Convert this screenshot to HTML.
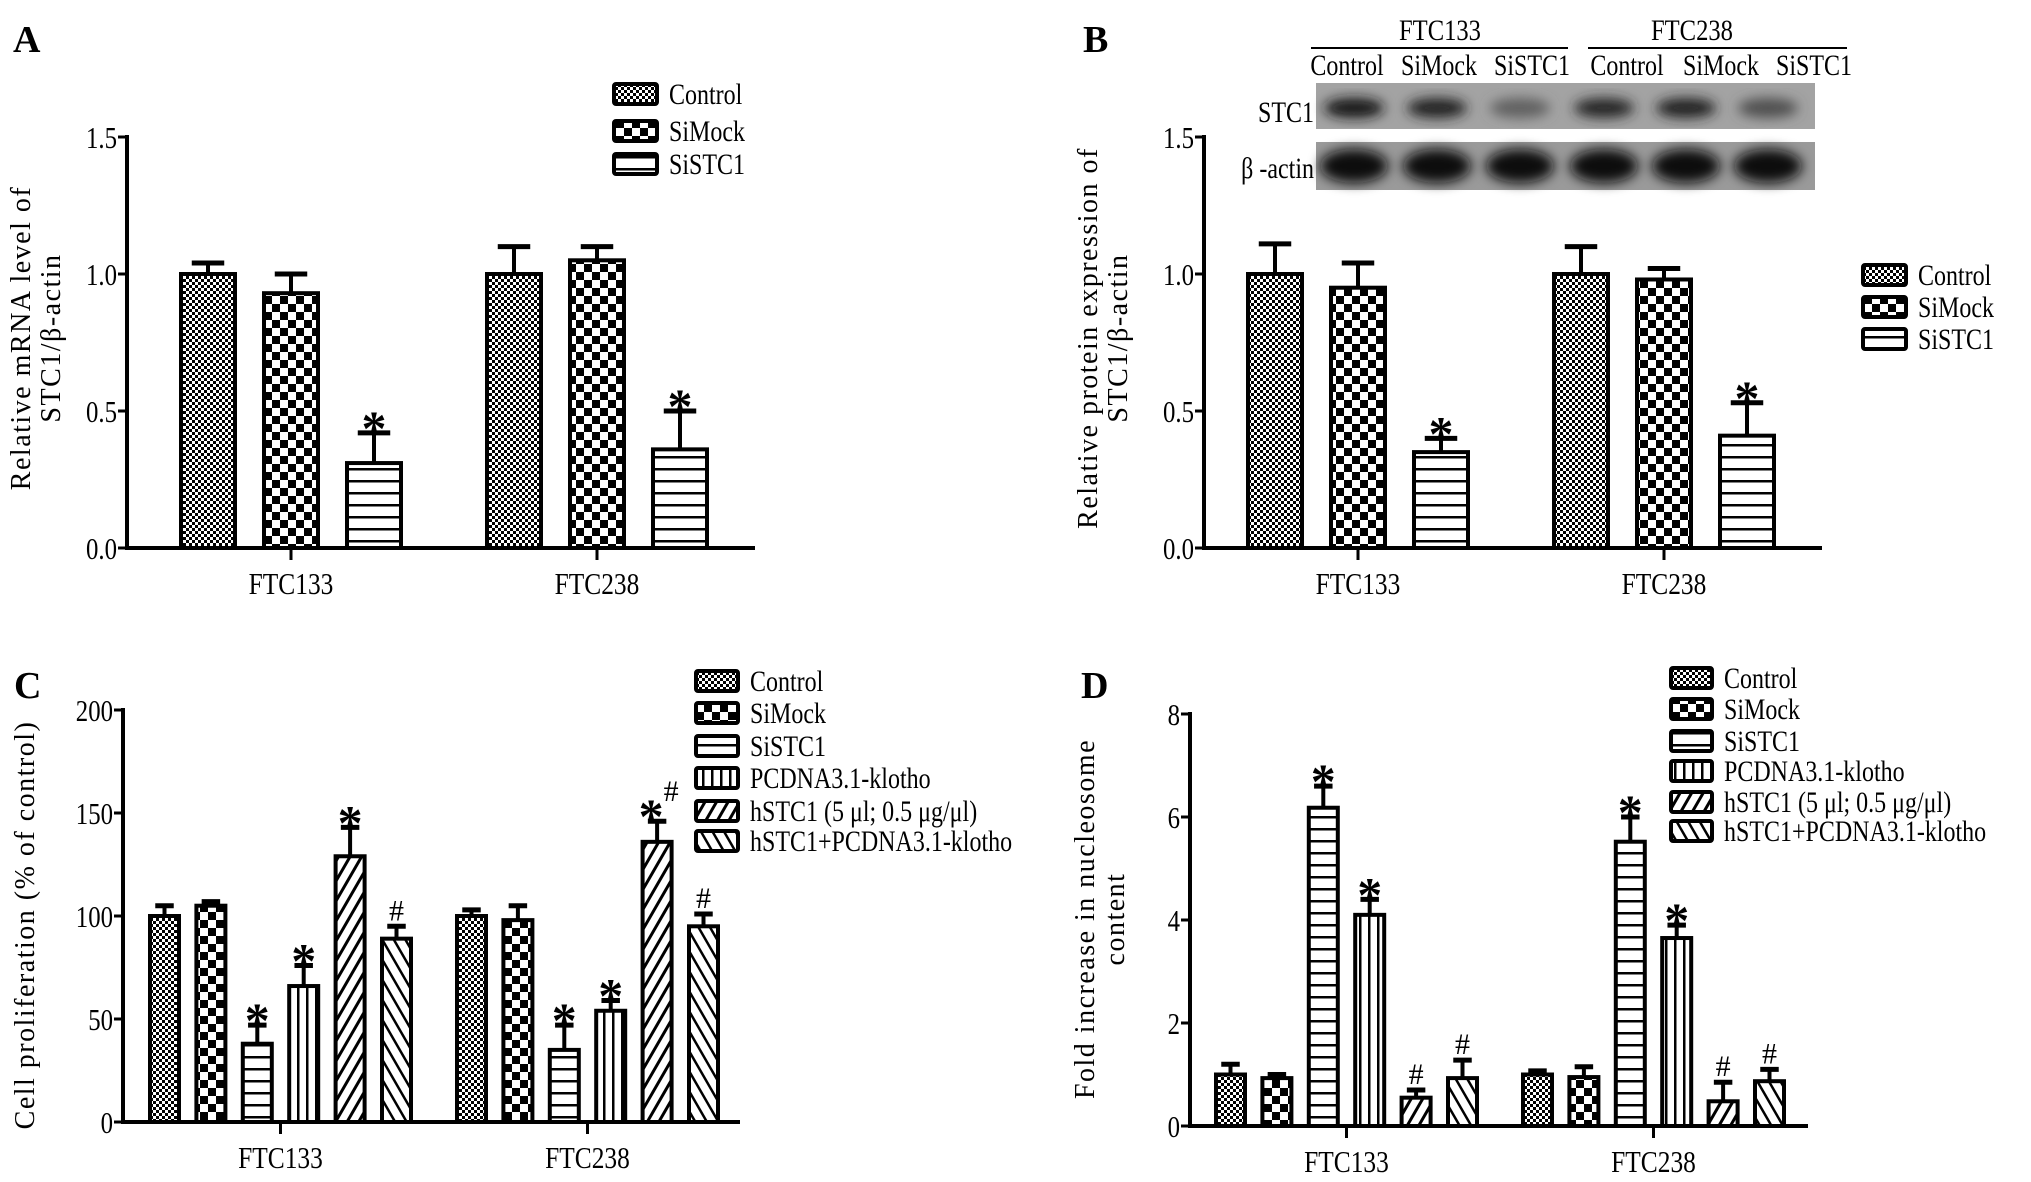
<!DOCTYPE html>
<html><head><meta charset="utf-8"><style>
body{margin:0;background:#fff;}
svg{display:block;font-family:"Liberation Serif",serif;}
</style></head><body>
<svg id="fig" width="2031" height="1182" viewBox="0 0 2031 1182" xmlns="http://www.w3.org/2000/svg">
<defs>
<pattern id="p-control" patternUnits="userSpaceOnUse" width="6" height="6"><rect width="6" height="6" fill="#fff"/><rect width="3" height="3" fill="#000"/><rect x="3" y="3" width="3" height="3" fill="#000"/></pattern>
<pattern id="p-simock" patternUnits="userSpaceOnUse" width="16" height="16"><rect width="16" height="16" fill="#fff"/><rect width="8" height="8" fill="#000"/><rect x="8" y="8" width="8" height="8" fill="#000"/></pattern>
<pattern id="p-sistc1" patternUnits="userSpaceOnUse" width="12" height="12"><rect width="12" height="12" fill="#fff"/><rect y="0" width="12" height="2.5" fill="#000"/></pattern>
<pattern id="p-pcdna" patternUnits="userSpaceOnUse" width="9" height="9"><rect width="9" height="9" fill="#fff"/><rect width="2.5" height="9" fill="#000"/></pattern>
<pattern id="p-hstc1" patternUnits="userSpaceOnUse" width="10" height="10" patternTransform="rotate(30)"><rect width="10" height="10" fill="#fff"/><rect width="3" height="10" fill="#000"/></pattern>
<pattern id="p-combo" patternUnits="userSpaceOnUse" width="10" height="10" patternTransform="rotate(-30)"><rect width="10" height="10" fill="#fff"/><rect width="2.5" height="10" fill="#000"/></pattern>
<filter id="blur" x="-50%" y="-50%" width="200%" height="200%"><feGaussianBlur stdDeviation="6"/></filter>
</defs>
<g id="root"></g>
</svg>
<script>
// ---- Panel A data ----
const aGroups = ["FTC133","FTC238"];
const aSeries = ["Control","SiMock","SiSTC1"];
const aValues = [[1.0,0.93,0.31],[1.0,1.05,0.36]];
const aErrors = [[1.04,1.0,0.42],[1.1,1.1,0.5]];
const aMarks = [["","","*"],["","","*"]];
const aTicks = ["0.0","0.5","1.0","1.5"];
const aTickVals = [0,0.5,1.0,1.5];
// ---- Panel B data ----
const bGroups = ["FTC133","FTC238"];
const bSeries = ["Control","SiMock","SiSTC1"];
const bValues = [[1.0,0.95,0.35],[1.0,0.98,0.41]];
const bErrors = [[1.11,1.04,0.4],[1.1,1.02,0.53]];
const bMarks = [["","","*"],["","","*"]];
const bTicks = ["0.0","0.5","1.0","1.5"];
const bTickVals = [0,0.5,1.0,1.5];
const blotStc1 = [0.85,0.8,0.4,0.75,0.8,0.5];
const blotActin = [1,1,1,1,1,1];
// ---- Panel C data ----
const cGroups = ["FTC133","FTC238"];
const cSeries = ["Control","SiMock","SiSTC1","PCDNA3.1-klotho","hSTC1 (5 μl; 0.5 μg/μl)","hSTC1+PCDNA3.1-klotho"];
const cValues = [[100,105,38,66,129,89],[100,98,35,54,136,95]];
const cErrors = [[105,107,47,76,143,95],[103,105,47,59,146,101]];
const cMarks = [["","","*","*","*","#"],["","","*","*","*#","#"]];
const cTicks = ["0","50","100","150","200"];
const cTickVals = [0,50,100,150,200];
// ---- Panel D data ----
const dGroups = ["FTC133","FTC238"];
const dSeries = ["Control","SiMock","SiSTC1","PCDNA3.1-klotho","hSTC1 (5 μl; 0.5 μg/μl)","hSTC1+PCDNA3.1-klotho"];
const dValues = [[1.0,0.93,6.18,4.1,0.55,0.93],[1.0,0.95,5.52,3.65,0.48,0.87]];
const dErrors = [[1.2,1.0,6.6,4.4,0.7,1.28],[1.07,1.15,6.0,3.9,0.85,1.1]];
const dMarks = [["","","*","*","#","#"],["","","*","*","#","#"]];
const dTicks = ["0","2","4","6","8"];
const dTickVals = [0,2,4,6,8];

const pats = ["p-control","p-simock","p-sistc1","p-pcdna","p-hstc1","p-combo"];
const NS = "http://www.w3.org/2000/svg";
const root = document.getElementById("root");
function mk(tag, attrs, parent, text){
  const e = document.createElementNS(NS, tag);
  for (const k in attrs) e.setAttribute(k, attrs[k]);
  if (text !== undefined) e.textContent = text;
  (parent||root).appendChild(e);
  return e;
}
function sx(x, k){ return `translate(${x},0) scale(${k},1) translate(${-x},0)`; }

function panel(o){
  const g = mk("g", {});
  
  
  const y = v => o.y0 - (v - o.vmin) / (o.vmax - o.vmin) * (o.y0 - o.y1);
  const L = mk("text",{x:o.letterX,y:o.letterY,"font-size":38,"font-weight":"bold"},g,o.letter);
  
  
  const ax = mk("g",{},g);
  
  
  mk("line",{x1:o.ax,y1:o.y1-2,x2:o.ax,y2:o.y0+2,stroke:"#000","stroke-width":4},ax);
  o.tickVals.forEach((tv,i)=>{
    mk("line",{x1:o.ax-9,y1:y(tv),x2:o.ax,y2:y(tv),stroke:"#000","stroke-width":3},ax);
    const t = mk("text",{x:o.ax-10,y:y(tv)+11,"font-size":31,"text-anchor":"end",transform:sx(o.ax-10,0.8)},ax,o.ticks[i]);
    
    
  });
  const xa = mk("g",{},g);
  
  
  mk("line",{x1:o.ax,y1:o.y0,x2:o.axEnd,y2:o.y0,stroke:"#000","stroke-width":4},xa);
  const tt = mk("text",{"font-size":28,"text-anchor":"middle",transform:`translate(${o.titleX},${o.titleY}) rotate(-90)`,"letter-spacing":"1.5"},g);
  
  
  o.title.forEach((ln,i)=>{ mk("tspan",{x:0,y:i*30},tt,ln); });
  o.groups.forEach((gn,gi)=>{
    const gx = o.groupStart[gi];
    const center = gx + (o.series.length*o.step - (o.step-o.bw))/2;
    mk("line",{x1:center,y1:o.y0,x2:center,y2:o.y0+12,stroke:"#000","stroke-width":3},xa);
    const xl = mk("text",{x:center,y:o.y0+46,"font-size":31,"text-anchor":"middle",transform:sx(center,0.82)},xa,gn);
    
    
    o.series.forEach((sn,si)=>{
      const v = o.values[gi][si], e = o.errors[gi][si];
      const bx = gx + si*o.step;
      const bg = mk("g",{},g);
      
      
      const cx = bx + o.bw/2;
      mk("line",{x1:cx,y1:y(v),x2:cx,y2:y(e),stroke:"#000","stroke-width":4},bg);
      mk("line",{x1:cx-o.bw*0.28,y1:y(e),x2:cx+o.bw*0.28,y2:y(e),stroke:"#000","stroke-width":5},bg);
      mk("rect",{x:bx+2,y:y(v),width:o.bw-4,height:o.y0-y(v),fill:`url(#${pats[si]})`,stroke:"#000","stroke-width":4},bg);
      const m = o.marks[gi][si];
      if (m){
        const star = m.indexOf("*")>=0, hash = m.indexOf("#")>=0;
        if (star){
          const st = mk("text",{x:hash?cx-6:cx,y:y(e)+12,"font-size":50,"font-weight":"bold","text-anchor":"middle"},bg,"*");
          
          
        }
        if (hash){
          const hx = mk("text",{x:star?cx+14:cx,y:star?y(e)-20:y(e)-6,"font-size":30,"text-anchor":"middle"},bg,"#");
          
          
        }
      }
    });
  });
  const lg = mk("g",{},g);
  
  
  o.series.forEach((sn,si)=>{
    const ly = o.legY[si];
    const le = mk("g",{},lg);
    
    
    mk("rect",{x:o.legX+2,y:ly-10,width:o.legW-4,height:20,fill:`url(#${pats[si]})`,stroke:"#000","stroke-width":4,rx:2},le);
    const tx = o.legX+o.legW+10;
    mk("text",{x:tx,y:ly+10,"font-size":30,transform:sx(tx,0.8)},le,sn);
  });
}

panel({name:"panel-a",letter:"A",letterX:13,letterY:52,ax:127,axEnd:755,y0:548,y1:137,vmin:0,vmax:1.5,
  ticks:aTicks,tickVals:aTickVals,groups:aGroups,series:aSeries,values:aValues,errors:aErrors,marks:aMarks,
  groupStart:[179,485],bw:58,step:83,title:["Relative mRNA level of","STC1/β-actin"],titleX:30,titleY:338,
  legX:612,legW:47,legY:[94,131,164]});
panel({name:"panel-b",letter:"B",letterX:1083,letterY:52,ax:1204,axEnd:1822,y0:548,y1:137,vmin:0,vmax:1.5,
  ticks:bTicks,tickVals:bTickVals,groups:bGroups,series:bSeries,values:bValues,errors:bErrors,marks:bMarks,
  groupStart:[1246,1552],bw:58,step:83,title:["Relative protein expression of","STC1/β-actin"],titleX:1097,titleY:338,
  legX:1861,legW:47,legY:[275,307,339]});
panel({name:"panel-c",letter:"C",letterX:14,letterY:698,ax:123,axEnd:740,y0:1122,y1:710,vmin:0,vmax:200,
  ticks:cTicks,tickVals:cTickVals,groups:cGroups,series:cSeries,values:cValues,errors:cErrors,marks:cMarks,
  groupStart:[148,455],bw:33,step:46.4,title:["Cell proliferation (% of control)"],titleX:34,titleY:925,
  legX:694,legW:46,legY:[681,713,746,778,811,841]});
panel({name:"panel-d",letter:"D",letterX:1081,letterY:698,ax:1190,axEnd:1808,y0:1126,y1:714,vmin:0,vmax:8,
  ticks:dTicks,tickVals:dTickVals,groups:dGroups,series:dSeries,values:dValues,errors:dErrors,marks:dMarks,
  groupStart:[1214,1521],bw:33,step:46.4,title:["Fold increase in nucleosome","content"],titleX:1094,titleY:919,
  legX:1669,legW:45,legY:[678,709,741,771,802,831]});

// Western blot
const wb = mk("g",{});


mk("rect",{x:1316,y:83,width:499,height:46,fill:"#a3a3a3"},wb);
mk("rect",{x:1316,y:142,width:499,height:48,fill:"#9a9a9a"},wb);
const lanePos = [1354,1437,1520,1604,1686,1768];
const labelPos = [1347,1439,1532,1627,1721,1814];
blotStc1.forEach((d,i)=>{
  const c = Math.round(160*(1-d));
  mk("ellipse",{cx:lanePos[i],cy:108,rx:30,ry:10,fill:`rgb(${c},${c},${c})`,filter:"url(#blur)"},wb);
});
blotActin.forEach((d,i)=>{
  const c = Math.round(40*(1-d)+10);
  mk("ellipse",{cx:lanePos[i],cy:166,rx:34,ry:17,fill:`rgb(${c},${c},${c})`,filter:"url(#blur)"},wb);
});
const t1 = mk("text",{x:1314,y:122,"font-size":30,"text-anchor":"end",transform:sx(1314,0.8)},wb,"STC1");


const t2 = mk("text",{x:1314,y:178,"font-size":30,"text-anchor":"end",transform:sx(1314,0.8)},wb,"β -actin");


const hdr = [["FTC133",1440,1311,1568],["FTC238",1692,1588,1847]];
hdr.forEach(h=>{
  const ht = mk("text",{x:h[1],y:40,"font-size":30,"text-anchor":"middle",transform:sx(h[1],0.82)},wb,h[0]);
  
  
  mk("line",{x1:h[2],y1:48,x2:h[3],y2:48,stroke:"#000","stroke-width":2},wb);
});
["Control","SiMock","SiSTC1","Control","SiMock","SiSTC1"].forEach((s,i)=>{
  const lt = mk("text",{x:labelPos[i],y:75,"font-size":30,"text-anchor":"middle",transform:sx(labelPos[i],0.8)},wb,s);
  
  
});
</script>
</body></html>
